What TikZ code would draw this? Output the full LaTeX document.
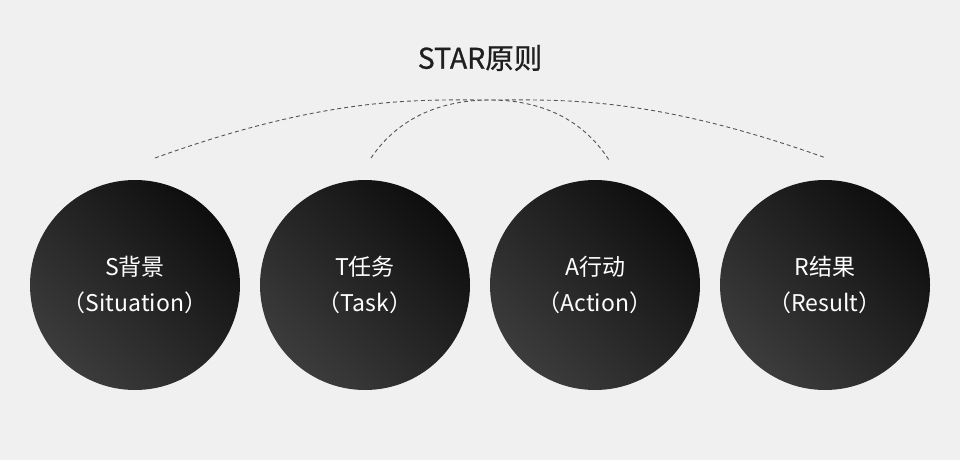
\documentclass[tikz,border=0pt]{standalone}
\usepackage{fontspec}
\setmainfont{Noto Sans CJK SC}
\newfontfamily\titlefont[FakeBold=0.7]{Noto Sans CJK SC}
\definecolor{bg}{HTML}{F0F0F0}
\definecolor{dark}{HTML}{0E0E0E}
\definecolor{light}{HTML}{3C3C3C}
\definecolor{dashc}{HTML}{555555}
\begin{document}
\begin{tikzpicture}[x=1pt,y=-1pt,
  starcircle/.style={circle, minimum size=210pt, inner sep=0pt,
    top color=dark, bottom color=light, shading angle=-45,
    text=white, align=center, font=\fontsize{23}{36}\selectfont},
  arcline/.style={draw=dashc, line width=0.9pt, dash pattern=on 4pt off 3pt}]
\fill[bg] (0,0) rectangle (960,460);
\useasboundingbox (0,0) rectangle (960,460);
\node[font=\titlefont\fontsize{28.5}{30}\selectfont, text=black!88] (title) at (480,58) {STAR原则};
\node[starcircle] (s) at (135,285) {S背景\\（Situation）};
\node[starcircle] (t) at (365,285) {T任务\\（Task）};
\node[starcircle] (a) at (595,285) {A行动\\（Action）};
\node[starcircle] (r) at (825,285) {R结果\\（Result）};
\coordinate (o1) at (155,158);
\coordinate (o2) at (826,158);
\coordinate (i1) at (371,158);
\coordinate (i2) at (609,160);
\draw[arcline] (o1) .. controls (330,95) and (420,100) .. (490,100)
  .. controls (560,100) and (650,95) .. (o2);
\draw[arcline] (i1) .. controls (400,115) and (445,100) .. (490,100)
  .. controls (535,100) and (580,115) .. (i2);
\end{tikzpicture}
\end{document}
